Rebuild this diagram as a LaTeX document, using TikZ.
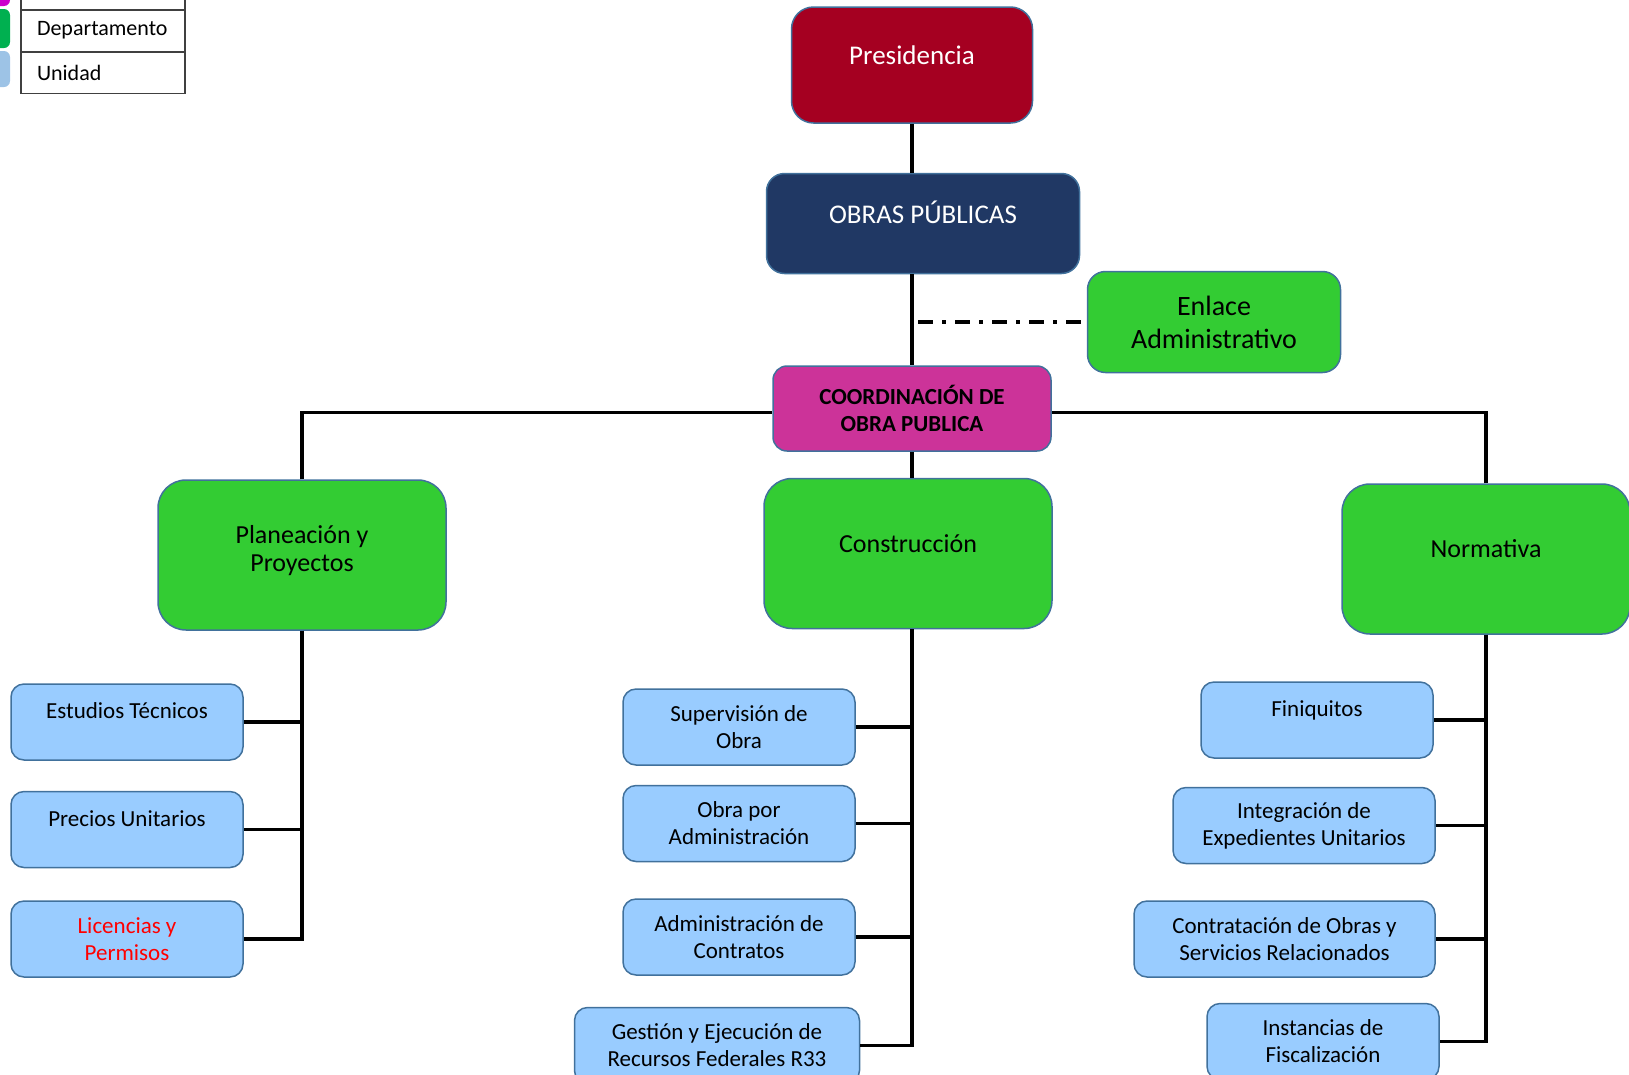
\documentclass[tikz,border=0pt]{standalone}
\usepackage{fontspec}
\setmainfont{Carlito}
\usepackage{tikz}
\usetikzlibrary{positioning, backgrounds}
\definecolor{presred}{RGB}{165,0,33}
\definecolor{obrasnavy}{RGB}{32,56,100}
\definecolor{coordmag}{RGB}{204,51,153}
\definecolor{deptgreen}{RGB}{51,204,51}
\definecolor{unitblue}{RGB}{153,204,255}
\definecolor{boxedge}{RGB}{65,113,156}
\definecolor{legmag}{RGB}{204,0,204}
\definecolor{leggreen}{RGB}{0,176,80}
\definecolor{legblue}{RGB}{157,195,230}
\tikzset{
    orgbox/.style={
        rectangle,
        draw=boxedge,
        line width=1.5pt,
        align=center
    },
    presbox/.style={
        orgbox,
        rounded corners=22pt,
        fill=presred,
        text=white,
        minimum width=241pt,
        minimum height=116pt,
        text height=19pt,
        text depth=21pt,
        font=\fontsize{27}{32}\selectfont
    },
    obrasbox/.style={
        orgbox,
        rounded corners=18pt,
        fill=obrasnavy,
        text=white,
        minimum width=313pt,
        minimum height=100pt,
        text height=19pt,
        text depth=20pt,
        font=\fontsize{27}{32}\selectfont
    },
    coordbox/.style={
        orgbox,
        rounded corners=14pt,
        fill=coordmag,
        minimum width=278pt,
        minimum height=85pt,
        font=\bfseries\fontsize{23}{27}\selectfont
    },
    deptbox/.style={
        orgbox,
        rounded corners=28pt,
        fill=deptgreen,
        minimum width=288pt,
        minimum height=150pt,
        font=\fontsize{26}{28}\selectfont
    },
    deptone/.style={
        deptbox,
        text height=18pt,
        text depth=21pt
    },
    unitbox/.style={
        orgbox,
        rounded corners=13pt,
        fill=unitblue,
        minimum width=232pt,
        minimum height=76pt,
        font=\fontsize{23}{27}\selectfont
    },
    unitone/.style={
        unitbox,
        text height=17pt,
        text depth=24pt
    },
    conn/.style={
        draw=black,
        line width=3.5pt
    },
    dashdot/.style={
        draw=black,
        line width=3.5pt,
        dash pattern=on 15pt off 9pt on 4pt off 9pt
    },
    legcell/.style={
        rectangle,
        draw=black!75,
        line width=1.5pt,
        fill=white,
        text width=132pt,
        inner xsep=16pt,
        minimum height=41.5pt,
        align=left,
        font=\fontsize{22}{26}\selectfont
    },
    legkey/.style={
        rectangle,
        rounded corners=6pt,
        minimum width=30pt
    }
}
\begin{document}
\begin{tikzpicture}[x=1pt, y=-1pt]
\useasboundingbox (0,0) rectangle (1629,1074);
\clip (0,0) rectangle (1629,1074);

% Legend
\node[legcell] (legtop) at (103,-11) {};
\node[legcell] (legdep) at (103,30.5) {Departamento};
\node[legcell] (leguni) at (103,72.5) {Unidad};
\node[legkey, fill=legmag, minimum height=36pt] (keymag) at (-5,-12) {};
\node[legkey, fill=leggreen, minimum height=39pt] (keydep) at (-5,28.5) {};
\node[legkey, fill=legblue, minimum height=36pt] (keyuni) at (-5,69) {};

% Top levels
\node[presbox] (pres) at (912,65) {Presidencia};
\node[obrasbox, below=49pt of pres, xshift=11pt] (obras) {OBRAS PÚBLICAS};
\node[coordbox, below=91pt of obras, xshift=-11pt] (coord) {COORDINACIÓN DE\\OBRA PUBLICA};
\node[deptbox, minimum width=253pt, minimum height=101pt, rounded corners=18pt,
      font=\fontsize{28}{33}\selectfont] (enlace) at (1214,322) {Enlace\\Administrativo};

\draw[conn] (pres.south) -- (pres.south |- obras.north);
\draw[conn] (pres.south |- obras.south) -- (coord.north);
\draw[dashdot] ([xshift=6pt]pres.south |- enlace.west) -- (enlace.west);

% Departments
\node[deptbox] (plan) at (302,555) {Planeación y\\Proyectos\\[-14pt]};
\node[deptone, below=26pt of coord, xshift=-4pt] (cons) {Construcción};
\node[deptone] (norm) at (1486,559) {Normativa};

\draw[conn] (coord.south) -- (coord.south |- cons.north);
\draw[conn] (plan.north) |- ([yshift=-4pt]coord.west);
\draw[conn] (norm.north) |- ([yshift=-4pt]coord.east);

% Units
\node[unitone] (est) at (127,722) {Estudios Técnicos};
\node[unitone, below=30pt of est] (prec) {Precios Unitarios};
\node[unitbox, below=32pt of prec, text=red] (lic) {Licencias y\\Permisos};

\node[unitbox] (sup) at (739,727) {Supervisión de\\Obra};
\node[unitbox, below=19pt of sup] (oba) {Obra por\\Administración};
\node[unitbox, below=36pt of oba] (adm) {Administración de\\Contratos};
\node[unitbox, below=31pt of adm, xshift=-22pt, minimum width=285pt] (ges) {Gestión y Ejecución de\\Recursos Federales R33};

\node[unitone] (fin) at (1317,720) {Finiquitos};
\node[unitbox, below=28pt of fin, xshift=-13pt, minimum width=262pt] (integ) {Integración de\\Expedientes Unitarios};
\node[unitbox, below=36pt of integ, xshift=-19.5pt, minimum width=301pt] (contr) {Contratación de Obras y\\Servicios Relacionados};
\node[unitbox, below=25pt of contr, xshift=38.5pt] (inst) {Instancias de\\Fiscalización};

\foreach \u in {est, prec, lic} \draw[conn] (plan.south) |- (\u.east);
\foreach \u in {sup, oba, adm, ges} \draw[conn] (coord.south |- cons.south) |- (\u.east);
\foreach \u in {fin, integ, contr, inst} \draw[conn] (norm.south) |- (\u.east);

\end{tikzpicture}
\end{document}
